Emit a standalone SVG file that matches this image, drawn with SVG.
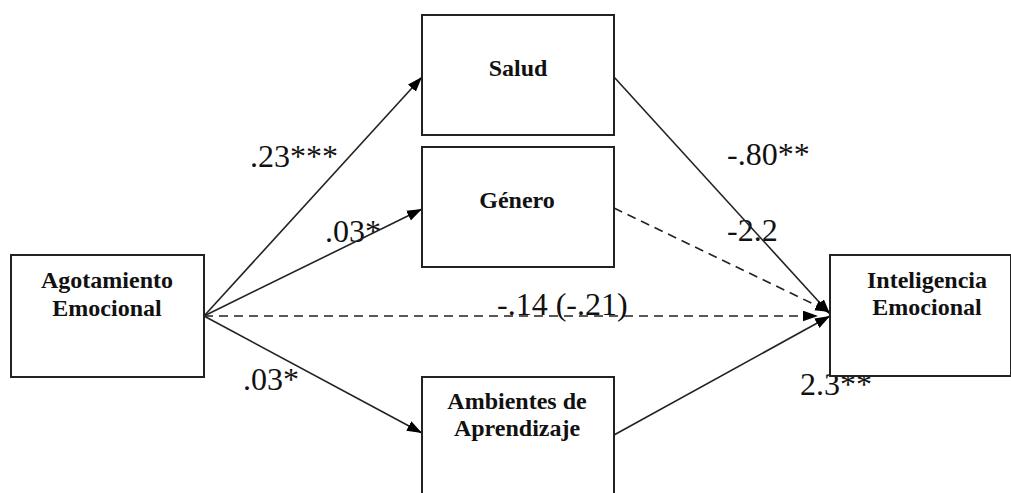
<svg xmlns="http://www.w3.org/2000/svg" width="1011" height="493" viewBox="0 0 1011 493">
  <defs>
    <marker id="arrow" viewBox="0 0 14 10" refX="14" refY="5" markerWidth="15" markerHeight="11" markerUnits="userSpaceOnUse" orient="auto">
      <path d="M0,0 L14,5 L0,10 Z" fill="#000"/>
    </marker>
  </defs>
  <style>
    .box { fill: #fff; stroke: #222; stroke-width: 2; }
    .name { font-family: "Liberation Serif", "Times New Roman", "DejaVu Serif", serif; font-weight: bold; font-size: 24px; fill: #111; text-anchor: middle; }
    .coef { font-family: "Liberation Serif", "Times New Roman", "DejaVu Serif", serif; font-size: 32px; fill: #111; }
    .edge { stroke: #222; stroke-width: 1.6; fill: none; marker-end: url(#arrow); }
    .dash { stroke-dasharray: 9 6; }
  </style>

  <rect width="1011" height="493" fill="#fff"/>

  <!-- path coefficients -->
  <g id="labels">
    <text class="coef" x="250" y="167">.23***</text>
    <text class="coef" x="325" y="242">.03*</text>
    <text class="coef" x="243" y="390">.03*</text>
    <text class="coef" x="497" y="315">-.14 (-.21)</text>
    <text class="coef" x="727" y="165">-.80**</text>
    <text class="coef" x="727" y="241">-2.2</text>
    <text class="coef" x="800" y="395">2.3**</text>
  </g>

  <g id="connectors">
    <line class="edge" x1="204" y1="316" x2="422" y2="77"/>
    <line class="edge" x1="204" y1="316" x2="422" y2="209"/>
    <line class="edge" x1="204" y1="316" x2="422" y2="433"/>
    <line class="edge dash" x1="204" y1="316" x2="818" y2="316"/>
    <line class="edge" x1="614" y1="77" x2="830" y2="314"/>
    <line class="edge dash" x1="614" y1="208" x2="830" y2="312"/>
    <line class="edge" x1="614" y1="435" x2="830" y2="316"/>
  </g>

  <g id="agotamiento">
    <rect class="box" x="11" y="255" width="193" height="122"/>
    <text class="name" x="107" y="288">Agotamiento</text>
    <text class="name" x="107" y="316">Emocional</text>
  </g>

  <g id="salud">
    <rect class="box" x="422" y="15" width="192" height="120"/>
    <text class="name" x="518" y="76">Salud</text>
  </g>

  <g id="genero">
    <rect class="box" x="422" y="147" width="192" height="120"/>
    <text class="name" x="517" y="208">Género</text>
  </g>

  <g id="ambientes">
    <rect class="box" x="422" y="377" width="192" height="130"/>
    <text class="name" x="517" y="409">Ambientes de</text>
    <text class="name" x="517" y="436">Aprendizaje</text>
  </g>

  <g id="inteligencia">
    <rect class="box" x="830" y="255" width="181" height="121"/>
    <text class="name" x="927" y="288">Inteligencia</text>
    <text class="name" x="927" y="315">Emocional</text>
  </g>
</svg>
